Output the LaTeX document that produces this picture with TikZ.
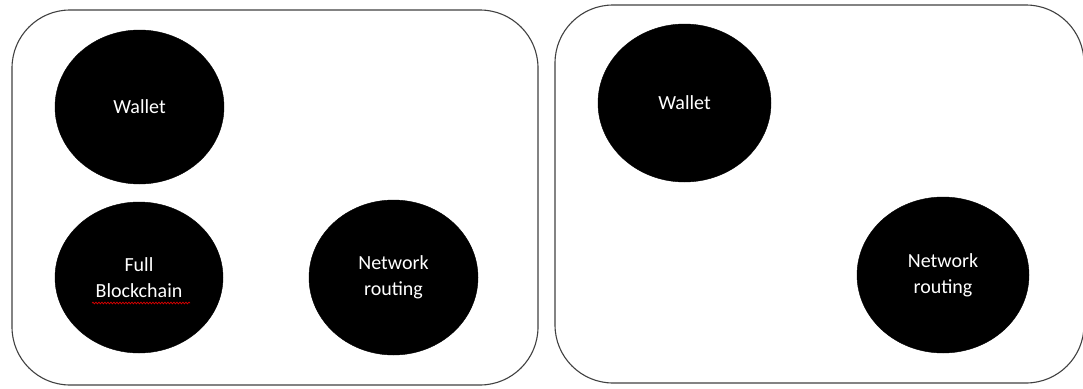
\documentclass[tikz,border=0pt]{standalone}
\usepackage{fontspec}
\setmainfont{Carlito}
\usetikzlibrary{shapes,positioning,decorations.pathmorphing}
\tikzstyle{panel} = [rectangle, draw=black!75, line width=1.1pt, rounded corners=58pt, inner sep=0pt]
\tikzstyle{role} = [ellipse, fill=black, draw=black, text=white, inner sep=0pt,
    align=center, font=\fontsize{20}{26}\selectfont]
\tikzstyle{typo} = [draw=red!85!black, line width=0.7pt,
    decorate, decoration={snake, amplitude=0.9pt, segment length=3pt}]

\begin{document}
\begin{tikzpicture}[x=1pt,y=1pt]
		\useasboundingbox (0,0) rectangle (1083,-388);
		% Draw panels
		\node [panel, minimum width=526pt, minimum height=375pt] (fullnode) at (275,-197.5) {};
		\node [panel, minimum width=529pt, minimum height=378pt] (lightnode) at (819.5,-194) {};
		% Draw nodes (full node)
		\node [role, minimum width=169pt, minimum height=154pt] (wallet) at (139.5,-107) {Wallet};
		\node [role, minimum width=168pt, minimum height=151pt] (chain) at (139,-277.5) {Full\\Blockchain};
		\node [role, minimum width=169pt, minimum height=155pt] (routing) at (393.5,-277.5) {Network\\routing};
		% Draw nodes (light node)
		\node [role, minimum width=173pt, minimum height=158pt] (wallet2) at (684.5,-103) {Wallet};
		\node [role, minimum width=172pt, minimum height=156pt] (routing2) at (943,-275) {Network\\routing};
		% spell check mark
		\draw [typo] (92,-303) -- (190,-303);
	\end{tikzpicture}
\end{document}
